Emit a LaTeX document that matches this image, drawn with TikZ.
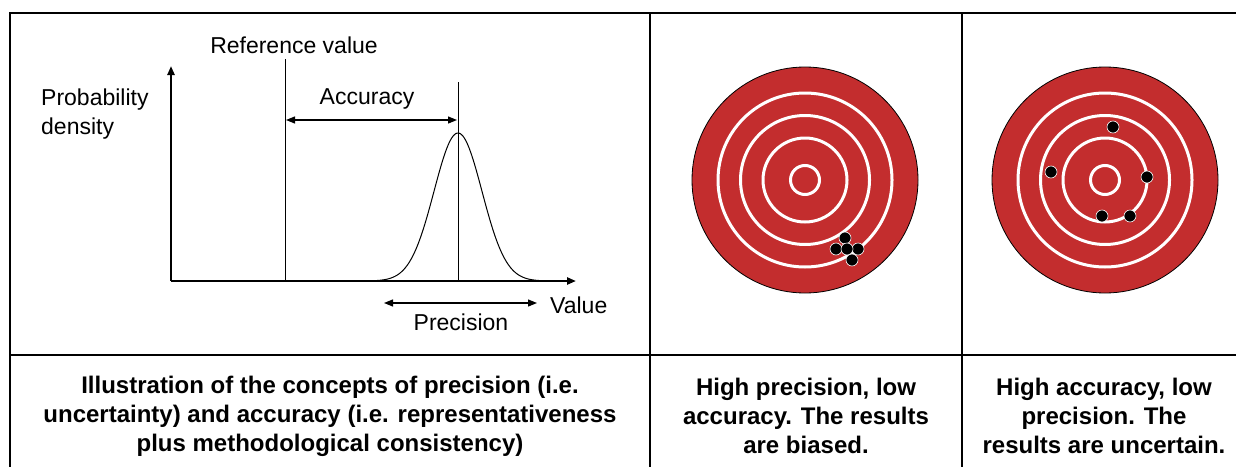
\documentclass[tikz,border=0pt]{standalone}
\usepackage{fontspec}
\setmainfont{Liberation Sans}
\usetikzlibrary{arrows.meta}
\definecolor{target}{RGB}{195,45,46}
\begin{document}
\begin{tikzpicture}[x=1pt,y=-1pt,
  frame/.style={line width=2pt,line cap=rect},
  axis/.style={line width=2.2pt,-{Triangle[length=9pt,width=7pt]}},
  thinline/.style={line width=1pt},
  dim/.style={line width=1.2pt,{Triangle[length=9pt,width=7pt]}-{Triangle[length=9pt,width=7pt]}},
  lbl/.style={font=\fontsize{23}{29}\selectfont,inner sep=0pt},
  captext/.style={font=\fontsize{24}{29}\selectfont\bfseries,align=center,inner sep=0pt},
  ring/.style={draw=white,line width=3pt},
  shot/.style={circle,fill=black,draw=white,line width=0.6pt,minimum size=12pt,inner sep=0pt}]
\useasboundingbox (0,0) rectangle (1236,466);
% table
\coordinate (tl) at (10,13); \coordinate (tr) at (1250,13);
\coordinate (bl) at (10,480);
\coordinate (c1t) at (650,13); \coordinate (c1b) at (650,480);
\coordinate (c2t) at (962,13); \coordinate (c2b) at (962,480);
\coordinate (rl) at (10,355); \coordinate (rr) at (1250,355);
\draw[frame] (tl) -- (tr);
\draw[frame] (tl) -- (bl);
\draw[frame] (c1t) -- (c1b);
\draw[frame] (c2t) -- (c2b);
\draw[frame] (rl) -- (rr);
% graph
\coordinate (o) at (171,281);
\coordinate (ytop) at (171,66);
\coordinate (xend) at (576,281);
\coordinate (reft) at (285,59);
\coordinate (refb) at (285,281);
\coordinate (meant) at (458,82);
\coordinate (meanb) at (458,281);
\coordinate (accl) at (286,120);
\coordinate (accr) at (457,120);
\coordinate (prl) at (384,303);
\coordinate (prr) at (537,303);
\draw[thinline] (reft) -- (refb);
\draw[thinline] (meant) -- (meanb);
\draw[thinline] plot[domain=370:546,samples=120,smooth] (\x,{281-148*exp(-((\x-458)*(\x-458))/1150)});
\draw[axis] (o) -- (ytop);
\draw[axis] (o) -- (xend);
\draw[dim] (accl) -- (accr);
\draw[dim] (prl) -- (prr);
\node[lbl] (reflbl) at (294,45) {Reference value};
\node[lbl,anchor=west,align=left] (pdlbl) at (41,114) {Probability\\density};
\node[lbl] (acclbl) at (367,99) {Accuracy};
\node[lbl] (prlbl) at (461,322) {Precision};
\node[lbl,anchor=west] (vallbl) at (550,305) {Value};
% targets
\foreach \cx in {805,1105}{
  \fill[target,draw=black,line width=0.8pt] (\cx,180) circle (113);
  \foreach \r in {87,64.5,42,14.5}{\draw[ring] (\cx,180) circle (\r);}
}
\node[shot] (a1) at (845,238) {};
\node[shot] (a2) at (836,249) {};
\node[shot] (a4) at (858,249) {};
\node[shot] (a5) at (852,260) {};
\node[shot] (a3) at (847,249) {};
\node[shot] (b1) at (1113,127) {};
\node[shot] (b2) at (1051,172) {};
\node[shot] (b3) at (1147,177) {};
\node[shot] (b4) at (1102,216) {};
\node[shot] (b5) at (1130,216) {};
% captions
\node[captext] (cap1) at (330,416) {Illustration of the concepts of precision (i.e.\\uncertainty) and accuracy (i.e. representativeness\\plus methodological consistency)};
\node[captext] (cap2) at (806,416) {High precision, low\\accuracy. The results\\are biased.};
\node[captext] (cap3) at (1104,416) {High accuracy, low\\precision. The\\results are uncertain.};
\end{tikzpicture}
\end{document}
